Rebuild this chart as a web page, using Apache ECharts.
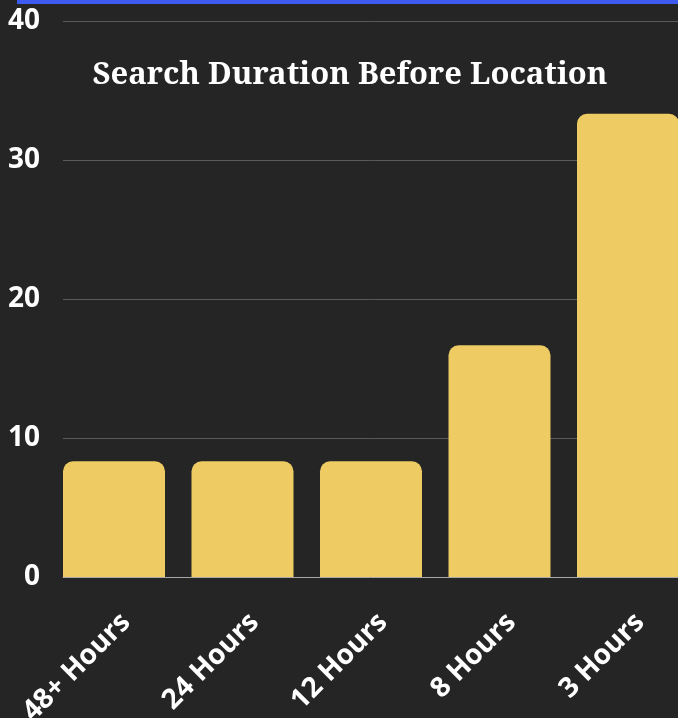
<!DOCTYPE html>
<html>
<head>
<meta charset="utf-8">
<style>
  html, body { margin: 0; padding: 0; background: #252525; }
  #chart { width: 678px; height: 718px; }
</style>
<script src="https://cdn.jsdelivr.net/npm/echarts@6/dist/echarts.min.js"></script>
</head>
<body>
<div id="chart"></div>
<script>
// Share of searches by how long they ran before the location was found
const categories = ['48+ Hours', '24 Hours', '12 Hours', '8 Hours', '3 Hours'];
const percentages = [8.33, 8.33, 8.33, 16.67, 33.33];
const yTicks = { min: 0, max: 40, step: 10 };

const chart = echarts.init(document.getElementById('chart'));

const labelFont = '"Open Sans", "Noto Sans", sans-serif';

chart.setOption({
  backgroundColor: '#252525',
  animation: false,
  title: {
    text: 'Search Duration Before Location',
    left: 345,
    top: 55,
    textAlign: 'center',
    textStyle: {
      color: '#ffffff',
      fontFamily: '"Noto Serif", "DejaVu Serif", serif',
      fontWeight: 'bold',
      fontSize: 31
    }
  },
  graphic: [{
    type: 'rect',
    shape: { x: 17, y: 0, width: 661, height: 4 },
    style: { fill: '#3d5af1' },
    silent: true
  }],
  grid: [
    // bars: category points sit on the bar centres, first to last
    { left: 114, right: 50, top: 21, height: 556, outerBoundsMode: 'none', containLabel: false },
    // gridlines, value labels and baseline
    { left: 63, right: 0, top: 21, height: 556, outerBoundsMode: 'none', containLabel: false }
  ],
  xAxis: [
    {
      type: 'category', gridIndex: 0, data: categories,
      boundaryGap: false,
      axisLine: { show: false }, axisTick: { show: false },
      axisLabel: {
        rotate: 45,
        color: '#ffffff',
        fontFamily: labelFont,
        fontWeight: 'bold',
        fontSize: 28,
        margin: 53,
        padding: [0, -17, 0, 0]
      }
    },
    {
      type: 'category', gridIndex: 1, data: categories,
      axisLine: { show: true, lineStyle: { color: '#a8a8a8', width: 1 } },
      axisTick: { show: false }, axisLabel: { show: false }
    }
  ],
  yAxis: [
    {
      type: 'value', gridIndex: 0,
      min: yTicks.min, max: yTicks.max, interval: yTicks.step,
      axisLine: { show: false }, axisTick: { show: false },
      axisLabel: { show: false }, splitLine: { show: false }
    },
    {
      type: 'value', gridIndex: 1,
      min: yTicks.min, max: yTicks.max, interval: yTicks.step,
      axisLine: { show: false }, axisTick: { show: false },
      axisLabel: {
        color: '#ffffff',
        fontFamily: labelFont,
        fontWeight: 'bold',
        fontSize: 28,
        margin: 23
      },
      splitLine: { show: true, lineStyle: { color: '#5a5a5a', width: 1 } }
    }
  ],
  series: [{
    type: 'bar',
    xAxisIndex: 0,
    yAxisIndex: 0,
    data: percentages,
    barWidth: 102,
    clip: false,
    itemStyle: { color: '#eecb63', borderRadius: [10, 10, 0, 0] }
  }]
});
</script>
</body>
</html>
